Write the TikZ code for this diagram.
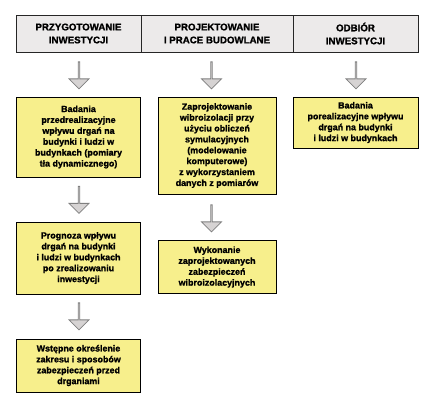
\documentclass[tikz,border=0pt]{standalone}
\usepackage{fontspec}
\setmainfont{Liberation Sans}[BoldFeatures={FakeBold=1.3}]
\usetikzlibrary{shapes.arrows}
\definecolor{boxyellow}{HTML}{F7EF8C}
\definecolor{headgray}{HTML}{ECEAEA}
\definecolor{arrowfill}{HTML}{D6D3D3}
\definecolor{arrowline}{HTML}{7F7F7F}
\tikzset{
  ybox/.style={draw=black, line width=0.9pt, fill=boxyellow, align=center, inner sep=0pt,
    font=\fontsize{8.9}{10.9}\selectfont\bfseries},
  headcell/.style={align=center, inner sep=0pt, font=\fontsize{9.7}{13}\selectfont\bfseries},
  downarrow/.style={shape=single arrow, draw=arrowline, fill=arrowfill, line width=0.8pt,
    rotate=270, minimum height=27pt, minimum width=20pt, single arrow head extend=5pt,
    single arrow head indent=0pt, inner sep=0pt},
}
\begin{document}
\begin{tikzpicture}[x=1pt,y=-1pt]
\useasboundingbox (0,0) rectangle (431,400);
% header bar
\draw[fill=headgray, draw=black!85, line width=0.9pt] (16,15) rectangle (418,52);
\draw[black!85, line width=0.9pt] (141,15) -- (141,52);
\draw[black!85, line width=0.9pt] (293,15) -- (293,52);
\node[headcell] (h1) at (78.5,33.5) {PRZYGOTOWANIE\\INWESTYCJI};
\node[headcell] (h2) at (217,33.5) {PROJEKTOWANIE\\I PRACE BUDOWLANE};
\node[headcell] (h3) at (355.5,33.5) {ODBIÓR\\INWESTYCJI};
% boxes
\node[ybox, minimum width=124pt, minimum height=80pt] (b1) at (78.5,137) {Badania\\przedrealizacyjne\\wpływu drgań na\\budynki i ludzi w\\budynkach (pomiary\\tła dynamicznego)};
\node[ybox, minimum width=118pt, minimum height=97pt] (b2) at (217,145.5) {Zaprojektowanie\\wibroizolacji przy\\użyciu obliczeń\\symulacyjnych\\(modelowanie\\komputerowe)\\z wykorzystaniem\\danych z pomiarów};
\node[ybox, minimum width=125pt, minimum height=51pt] (b3) at (355.5,122.5) {Badania\\porealizacyjne wpływu\\drgań na budynki\\i ludzi w budynkach};
\node[ybox, minimum width=124pt, minimum height=72pt] (b4) at (78.5,258) {Prognoza wpływu\\drgań na budynki\\i ludzi w budynkach\\po zrealizowaniu\\inwestycji};
\node[ybox, minimum width=118pt, minimum height=53pt] (b5) at (217,267) {Wykonanie\\zaprojektowanych\\zabezpieczeń\\wibroizolacyjnych};
\node[ybox, minimum width=124pt, minimum height=53pt] (b6) at (78.5,365.5) {Wstępne określenie\\zakresu i sposobów\\zabezpieczeń przed\\drganiami};
% block arrows
\node[downarrow] (a1) at (79,75) {};
\node[downarrow] (a2) at (211.5,75) {};
\node[downarrow] (a3) at (356,75) {};
\node[downarrow] (a4) at (79,199.5) {};
\node[downarrow] (a5) at (79,316) {};
\node[downarrow] (a6) at (211.5,218) {};
\end{tikzpicture}
\end{document}
